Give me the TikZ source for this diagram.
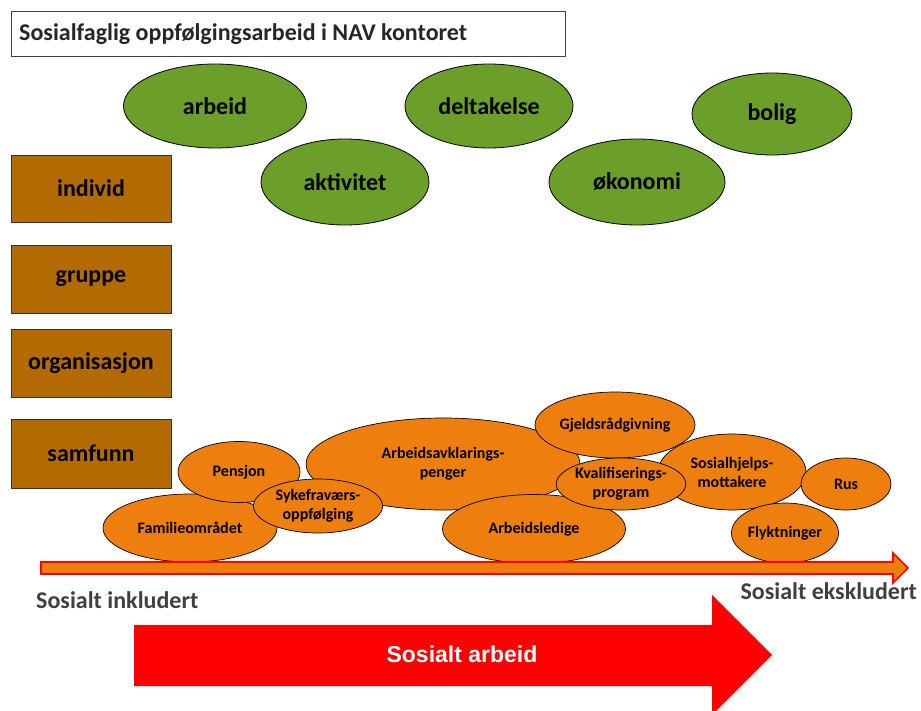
\documentclass[tikz,border=0pt]{standalone}
\usepackage{fontspec}
\setmainfont{Carlito}
\newfontfamily\arialfont{Liberation Sans}
\usetikzlibrary{shapes.geometric}

\definecolor{leafgreen}{RGB}{108,158,42}
\definecolor{barkbrown}{RGB}{179,106,2}
\definecolor{navorange}{RGB}{238,127,14}
\definecolor{darktext}{RGB}{64,64,64}

\tikzset{
  goal/.style={ellipse, draw=black, line width=0.8pt, fill=leafgreen,
    inner sep=0pt, font=\bfseries\fontsize{24}{26}\selectfont},
  level/.style={rectangle, draw=black!80, line width=0.8pt, fill=barkbrown,
    inner sep=0pt, minimum width=160pt, font=\bfseries\fontsize{24}{26}\selectfont},
  group/.style={ellipse, draw=black, line width=0.7pt, fill=navorange,
    inner sep=0pt, align=center, font=\bfseries\fontsize{16}{19}\selectfont},
  sidelabel/.style={inner sep=0pt, text=darktext, font=\bfseries\fontsize{24}{26}\selectfont},
}

\begin{document}
\begin{tikzpicture}[x=1pt, y=-1pt]
\clip (0,0) rectangle (921,711);
\fill[white] (0,0) rectangle (921,711);

% heading
\node (title) [draw=black!75, line width=0.7pt, minimum width=554pt, minimum height=45pt,
  inner sep=0pt, anchor=north west] at (11,11) {};
\node (titletext) [anchor=west, inner sep=0pt, text=black!85,
  font=\bfseries\fontsize{24}{26}\selectfont] at (19,34) {Sosialfaglig oppfølgingsarbeid i NAV kontoret};

% green goals
\node (arbeid)     [goal, minimum width=183pt, minimum height=84pt] at (215,106) {arbeid};
\node (deltakelse) [goal, minimum width=168pt, minimum height=84pt] at (489,106) {deltakelse};
\node (bolig)      [goal, minimum width=160pt, minimum height=82pt] at (772,114) {bolig};
\node (aktivitet)  [goal, minimum width=168pt, minimum height=86pt] at (345,182) {aktivitet};
\node (okonomi)    [goal, minimum width=176pt, minimum height=86pt] at (637,182) {økonomi};

% levels
\node (individ)      [level, minimum height=67pt] at (91,188.5) {individ};
\node (gruppe)       [level, minimum height=68pt] at (91,279) {gruppe};
\node (organisasjon) [level, minimum height=68pt] at (91,363) {organisasjon};
\node (samfunn)      [level, minimum height=69pt] at (91,453.5) {samfunn};

% target groups
\node (familie)  [group, minimum width=174pt, minimum height=68pt] at (190,528) {Familieområdet};
\node (pensjon)  [group, minimum width=122pt, minimum height=61pt] at (239,472) {Pensjon};
\node (aap)      [group, minimum width=274pt, minimum height=92pt] at (443,464) {Arbeidsavklarings-\\penger};
\node (gjeld)    [group, minimum width=160pt, minimum height=66pt] at (615,425) {Gjeldsrådgivning};
\node (ledige)   [group, minimum width=183pt, minimum height=69pt] at (534,529) {Arbeidsledige};
\node (sosial)   [group, minimum width=148pt, minimum height=76pt] at (732,472) {Sosialhjelps-\\mottakere};
\node (rus)      [group, minimum width=90pt, minimum height=52pt] at (846,484) {Rus};
\node (flykt)    [group, minimum width=107pt, minimum height=60pt] at (785,533) {Flyktninger};
\node (syke)     [group, minimum width=129pt, minimum height=54pt] at (318,506) {Sykefraværs-\\oppfølging};
\node (kval)     [group, minimum width=129pt, minimum height=52pt] at (621,484) {Kvalifiserings-\\program};

% scale from included to excluded
\filldraw[fill=navorange, draw=red, line width=1.6pt, line join=miter]
  (41,562) -- (893,562) -- (893,553) -- (908,568) -- (893,583) -- (893,574) -- (41,574) -- cycle;
\node (inkl) [sidelabel, anchor=west] at (36,600) {Sosialt inkludert};
\node (ekskl) [sidelabel, anchor=east] at (917,591) {Sosialt ekskludert};

% social work arrow
\fill[red] (134,625) -- (712,625) -- (712,595) -- (772,655) -- (712,715) -- (712,686) -- (134,686) -- cycle;
\node (arbeidpil) [text=white, inner sep=0pt, font=\arialfont\bfseries\fontsize{23}{25}\selectfont] at (462,654) {Sosialt arbeid};
\end{tikzpicture}
\end{document}
